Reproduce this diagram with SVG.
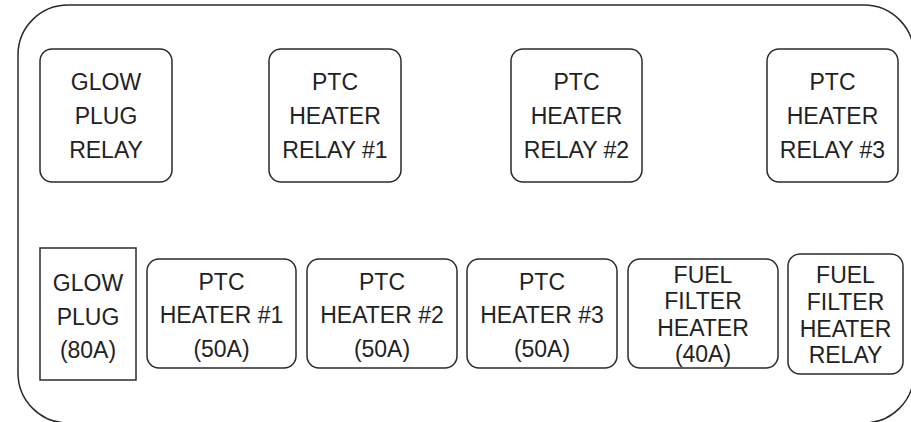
<svg xmlns="http://www.w3.org/2000/svg" width="911" height="422" viewBox="0 0 911 422">
<style>
.b{fill:#fff;stroke:#2a2a2a;stroke-width:1.5}
.t{font-family:"Liberation Sans",Arial,sans-serif;font-size:23px;fill:#222;text-anchor:middle}
</style>
<rect width="911" height="422" fill="#fff"/>
<g id="housing"><rect x="18" y="5" width="896" height="418" rx="50" ry="50" class="b"/></g>
<g id="glow-plug-relay"><rect x="40" y="49" width="132" height="133" rx="12" class="b"/>
<text class="t" x="106" y="90">GLOW</text><text class="t" x="106" y="124">PLUG</text><text class="t" x="106" y="158">RELAY</text></g>
<g id="ptc-relay-1"><rect x="269" y="49" width="132" height="133" rx="12" class="b"/>
<text class="t" x="335" y="90">PTC</text><text class="t" x="335" y="124">HEATER</text><text class="t" x="335" y="158">RELAY #1</text></g>
<g id="ptc-relay-2"><rect x="511" y="49" width="131" height="133" rx="12" class="b"/>
<text class="t" x="576.5" y="90">PTC</text><text class="t" x="576.5" y="124">HEATER</text><text class="t" x="576.5" y="158">RELAY #2</text></g>
<g id="ptc-relay-3"><rect x="767" y="49" width="131" height="133" rx="12" class="b"/>
<text class="t" x="832.5" y="90">PTC</text><text class="t" x="832.5" y="124">HEATER</text><text class="t" x="832.5" y="158">RELAY #3</text></g>
<g id="glow-plug"><rect x="40" y="248" width="96" height="132" class="b"/>
<text class="t" x="88" y="291">GLOW</text><text class="t" x="88" y="325">PLUG</text><text class="t" x="88" y="358">(80A)</text></g>
<g id="ptc-heater-1"><rect x="147" y="259" width="149" height="109" rx="12" class="b"/>
<text class="t" x="221.5" y="290">PTC</text><text class="t" x="221.5" y="323">HEATER #1</text><text class="t" x="221.5" y="357">(50A)</text></g>
<g id="ptc-heater-2"><rect x="307" y="259" width="150" height="109" rx="12" class="b"/>
<text class="t" x="382" y="290">PTC</text><text class="t" x="382" y="323">HEATER #2</text><text class="t" x="382" y="357">(50A)</text></g>
<g id="ptc-heater-3"><rect x="467" y="259" width="150" height="109" rx="12" class="b"/>
<text class="t" x="542" y="290">PTC</text><text class="t" x="542" y="323">HEATER #3</text><text class="t" x="542" y="357">(50A)</text></g>
<g id="fuel-filter-heater"><rect x="628" y="259" width="150" height="109" rx="12" class="b"/>
<text class="t" x="703" y="283">FUEL</text><text class="t" x="703" y="309">FILTER</text><text class="t" x="703" y="336">HEATER</text><text class="t" x="703" y="362">(40A)</text></g>
<g id="fuel-filter-heater-relay"><rect x="788" y="254" width="115" height="120" rx="12" class="b"/>
<text class="t" x="845.5" y="283">FUEL</text><text class="t" x="845.5" y="310">FILTER</text><text class="t" x="845.5" y="337">HEATER</text><text class="t" x="845.5" y="363">RELAY</text></g>
<g id="connectors"/>
</svg>
